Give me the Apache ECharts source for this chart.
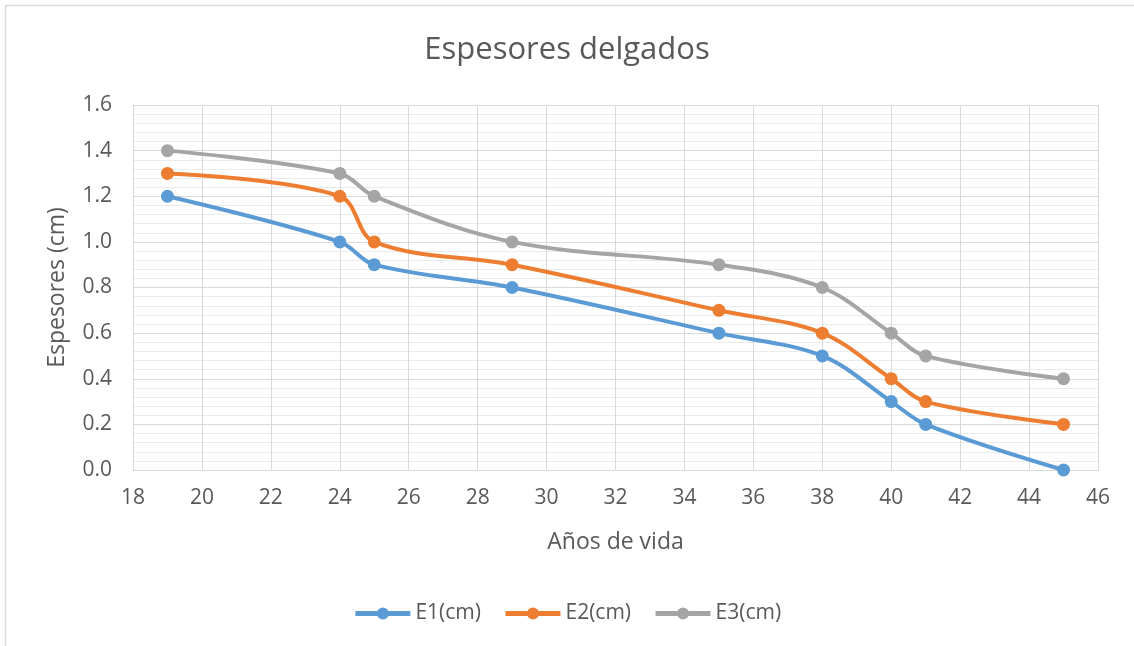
<!DOCTYPE html>
<html>
<head>
<meta charset="utf-8">
<script src="https://cdn.jsdelivr.net/npm/echarts@6/dist/echarts.min.js"></script>
<style>
  html, body { margin: 0; padding: 0; background: #fff; }
  #chart { width: 1134px; height: 646px; }
</style>
</head>
<body>
<div id="chart"></div>
<script>
// Años de vida (x) and thickness values for each series
const years = [19, 24, 25, 29, 35, 38, 40, 41, 45];
const e1 = [1.2, 1.0, 0.9, 0.8, 0.6, 0.5, 0.3, 0.2, 0.0];
const e2 = [1.3, 1.2, 1.0, 0.9, 0.7, 0.6, 0.4, 0.3, 0.2];
const e3 = [1.4, 1.3, 1.2, 1.0, 0.9, 0.8, 0.6, 0.5, 0.4];
const seriesNames = ['E1(cm)', 'E2(cm)', 'E3(cm)'];
const colors = ['#5B9BD5', '#ED7D31', '#A5A5A5'];

const FONT = '"Open Sans", "Noto Sans", sans-serif';
const TEXT = '#595959';
const pairs = arr => years.map((x, i) => [x, arr[i]]);

function lineSeries(name, values, color) {
  return {
    name: name,
    type: 'line',
    data: pairs(values),
    smooth: 0.35,
    symbol: 'circle',
    symbolSize: 13,
    showSymbol: true,
    lineStyle: { width: 4, color: color },
    itemStyle: { color: color },
    emphasis: { disabled: true }
  };
}

const chart = echarts.init(document.getElementById('chart'), null, { renderer: 'canvas' });
chart.setOption({
  animation: false,
  backgroundColor: '#ffffff',
  color: colors,
  title: {
    text: 'Espesores delgados',
    left: 'center',
    top: 30,
    textStyle: { fontFamily: FONT, fontSize: 31, fontWeight: 'normal', color: TEXT }
  },
  legend: {
    top: 598,
    left: 'center',
    itemWidth: 55,
    itemHeight: 15,
    itemGap: 22,
    lineStyle: { width: 5 },
    textStyle: { fontFamily: FONT, fontSize: 21, color: TEXT },
    data: seriesNames
  },
  grid: { left: 133, right: 36, top: 105, bottom: 176 },
  xAxis: {
    type: 'value',
    min: 18, max: 46, interval: 2,
    name: 'Años de vida',
    nameLocation: 'middle',
    nameGap: 61,
    nameTextStyle: { fontFamily: FONT, fontSize: 23, color: TEXT },
    axisLine: { show: true, lineStyle: { color: '#d9d9d9' } },
    axisTick: { show: false },
    axisLabel: { fontFamily: FONT, fontSize: 21, color: TEXT, margin: 18 },
    splitLine: { show: true, lineStyle: { color: '#d9d9d9', width: 1 } }
  },
  yAxis: {
    type: 'value',
    min: 0, max: 1.6, interval: 0.2,
    name: 'Espesores (cm)',
    nameLocation: 'middle',
    nameGap: 64,
    nameTextStyle: { fontFamily: FONT, fontSize: 23, color: TEXT },
    axisLine: { show: true, lineStyle: { color: '#d9d9d9' } },
    axisTick: { show: false },
    axisLabel: {
      fontFamily: FONT, fontSize: 21, color: TEXT, margin: 21,
      formatter: v => v.toFixed(1)
    },
    splitLine: { show: true, lineStyle: { color: '#d9d9d9', width: 1 } },
    minorTick: { show: false, splitNumber: 5 },
    minorSplitLine: { show: true, lineStyle: { color: '#ebebeb', width: 1 } }
  },
  graphic: [{
    type: 'rect',
    silent: true,
    z: -10,
    shape: { x: 5.5, y: 5.5, width: 1140, height: 650 },
    style: { fill: 'none', stroke: '#d9d9d9', lineWidth: 1.5 }
  }],
  series: [
    lineSeries(seriesNames[0], e1, colors[0]),
    lineSeries(seriesNames[1], e2, colors[1]),
    lineSeries(seriesNames[2], e3, colors[2])
  ]
});
</script>
</body>
</html>
